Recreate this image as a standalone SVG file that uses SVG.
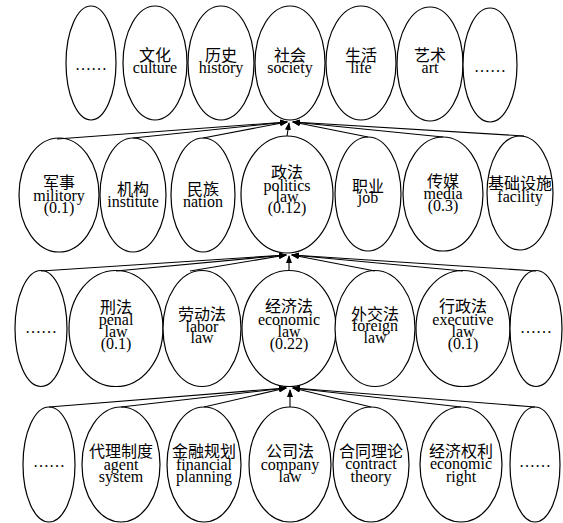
<svg xmlns="http://www.w3.org/2000/svg" width="563" height="523" viewBox="0 0 563 523">
<style>
ellipse{fill:#fff;stroke:#000;stroke-width:1.2}
text{text-anchor:middle;fill:#000}
.zh{font-family:"Noto Sans CJK SC",sans-serif;font-size:16px}
.en{font-family:"Liberation Serif",serif;font-size:16px}
#connectors line{stroke:#000;stroke-width:1.1;marker-end:url(#arr)}
</style>
<defs>
<marker id="arr" markerWidth="8" markerHeight="6" refX="7" refY="3" orient="auto" markerUnits="userSpaceOnUse">
<path d="M0,0 L8,3 L0,6 Z" fill="#000"/>
</marker>
</defs>
<rect width="563" height="523" fill="#fff"/>
<!-- Row 1 -->
<g id="r1-dots1"><ellipse cx="91" cy="63" rx="25" ry="57"/><text class="en" x="91" y="70">……</text></g>
<g id="r1-culture"><ellipse cx="155" cy="63" rx="32" ry="57"/><text class="zh" x="155" y="61">文化</text><text class="en" x="155" y="73">culture</text></g>
<g id="r1-history"><ellipse cx="221" cy="63" rx="33" ry="57"/><text class="zh" x="221" y="61">历史</text><text class="en" x="221" y="73">history</text></g>
<g id="r1-society"><ellipse cx="290" cy="63" rx="35" ry="57"/><text class="zh" x="290" y="61">社会</text><text class="en" x="290" y="73">society</text></g>
<g id="r1-life"><ellipse cx="361" cy="63" rx="35" ry="57"/><text class="zh" x="361" y="61">生活</text><text class="en" x="361" y="73">life</text></g>
<g id="r1-art"><ellipse cx="430" cy="64" rx="33" ry="57"/><text class="zh" x="430" y="61">艺术</text><text class="en" x="430" y="73">art</text></g>
<g id="r1-dots2"><ellipse cx="490" cy="65" rx="27" ry="57"/><text class="en" x="490" y="72">……</text></g>
<!-- Row 2 -->
<g id="r2-military"><ellipse cx="59" cy="195" rx="40" ry="57"/><text class="zh" x="59" y="188">军事</text><text class="en" x="59" y="201">militory</text><text class="en" x="59" y="213">(0.1)</text></g>
<g id="r2-institute"><ellipse cx="133" cy="195" rx="33" ry="57"/><text class="zh" x="133" y="195">机构</text><text class="en" x="133" y="207">institute</text></g>
<g id="r2-nation"><ellipse cx="203" cy="195" rx="32" ry="57"/><text class="zh" x="203" y="195">民族</text><text class="en" x="203" y="207">nation</text></g>
<g id="r2-politics"><ellipse cx="287" cy="194.5" rx="46" ry="58.5"/><text class="zh" x="287" y="178">政法</text><text class="en" x="287" y="191">politics</text><text class="en" x="287" y="202">law</text><text class="en" x="287" y="213">(0.12)</text></g>
<g id="r2-job"><ellipse cx="368" cy="194" rx="33" ry="57"/><text class="zh" x="368" y="192">职业</text><text class="en" x="368" y="203">job</text></g>
<g id="r2-media"><ellipse cx="443" cy="194" rx="40" ry="57"/><text class="zh" x="443" y="187">传媒</text><text class="en" x="443" y="199">media</text><text class="en" x="443" y="211">(0.3)</text></g>
<g id="r2-facility"><ellipse cx="520" cy="193" rx="33" ry="57"/><text class="zh" x="520" y="189">基础设施</text><text class="en" x="520" y="202">facility</text></g>
<!-- Row 3 -->
<g id="r3-dots1"><ellipse cx="41" cy="328.5" rx="26" ry="58"/><text class="en" x="41" y="333">……</text></g>
<g id="r3-penal"><ellipse cx="116" cy="328.5" rx="47" ry="58"/><text class="zh" x="116" y="313">刑法</text><text class="en" x="116" y="325">penal</text><text class="en" x="116" y="337">law</text><text class="en" x="116" y="349">(0.1)</text></g>
<g id="r3-labor"><ellipse cx="202" cy="328.5" rx="39" ry="58"/><text class="zh" x="202" y="320">劳动法</text><text class="en" x="202" y="332">labor</text><text class="en" x="202" y="343">law</text></g>
<g id="r3-economic"><ellipse cx="289" cy="328.5" rx="47" ry="58"/><text class="zh" x="289" y="312">经济法</text><text class="en" x="289" y="325">economic</text><text class="en" x="289" y="337">law</text><text class="en" x="289" y="349">(0.22)</text></g>
<g id="r3-foreign"><ellipse cx="375" cy="328.5" rx="40" ry="58"/><text class="zh" x="375" y="320">外交法</text><text class="en" x="375" y="331">foreign</text><text class="en" x="375" y="343">law</text></g>
<g id="r3-executive"><ellipse cx="463" cy="328.5" rx="47" ry="58"/><text class="zh" x="463" y="312">行政法</text><text class="en" x="463" y="325">executive</text><text class="en" x="463" y="337">law</text><text class="en" x="463" y="349">(0.1)</text></g>
<g id="r3-dots2"><ellipse cx="536" cy="328.5" rx="26" ry="58"/><text class="en" x="536" y="333">……</text></g>
<!-- Row 4 -->
<g id="r4-dots1"><ellipse cx="49" cy="464.5" rx="26" ry="57.5"/><text class="en" x="49" y="467">……</text></g>
<g id="r4-agent"><ellipse cx="121" cy="464.5" rx="39" ry="57.5"/><text class="zh" x="121" y="457">代理制度</text><text class="en" x="121" y="470">agent</text><text class="en" x="121" y="482">system</text></g>
<g id="r4-financial"><ellipse cx="204" cy="464.5" rx="37" ry="57.5"/><text class="zh" x="204" y="457">金融规划</text><text class="en" x="204" y="470">financial</text><text class="en" x="204" y="482">planning</text></g>
<g id="r4-company"><ellipse cx="290" cy="464.5" rx="41" ry="57.5"/><text class="zh" x="290" y="457">公司法</text><text class="en" x="290" y="470">company</text><text class="en" x="290" y="482">law</text></g>
<g id="r4-contract"><ellipse cx="371" cy="464.5" rx="38" ry="57.5"/><text class="zh" x="371" y="457">合同理论</text><text class="en" x="371" y="469">contract</text><text class="en" x="371" y="482">theory</text></g>
<g id="r4-right"><ellipse cx="461" cy="464.5" rx="41" ry="57.5"/><text class="zh" x="461" y="457">经济权利</text><text class="en" x="461" y="469">economic</text><text class="en" x="461" y="482">right</text></g>
<g id="r4-dots2"><ellipse cx="535" cy="464.5" rx="25" ry="57.5"/><text class="en" x="535" y="467">……</text></g>
<!-- Connectors -->
<g id="connectors">
<line x1="57" y1="139" x2="287" y2="122"/>
<line x1="133" y1="138" x2="287" y2="122"/>
<line x1="203" y1="138" x2="287" y2="122"/>
<line x1="287" y1="136" x2="289" y2="123"/>
<line x1="368" y1="137" x2="293" y2="122"/>
<line x1="443" y1="137" x2="293" y2="122"/>
<line x1="524" y1="136" x2="293" y2="122"/>
<line x1="41" y1="271" x2="286" y2="255"/>
<line x1="116" y1="271" x2="286" y2="255"/>
<line x1="190" y1="271" x2="286" y2="255"/>
<line x1="289" y1="271" x2="289" y2="256"/>
<line x1="375" y1="271" x2="292" y2="255"/>
<line x1="463" y1="271" x2="292" y2="255"/>
<line x1="536" y1="271" x2="292" y2="255"/>
<line x1="49" y1="407" x2="286" y2="388"/>
<line x1="121" y1="407" x2="286" y2="388"/>
<line x1="204" y1="407" x2="286" y2="388"/>
<line x1="290" y1="407" x2="290" y2="390"/>
<line x1="371" y1="407" x2="293" y2="388"/>
<line x1="461" y1="407" x2="293" y2="388"/>
<line x1="535" y1="407" x2="293" y2="388"/>
</g>
</svg>
